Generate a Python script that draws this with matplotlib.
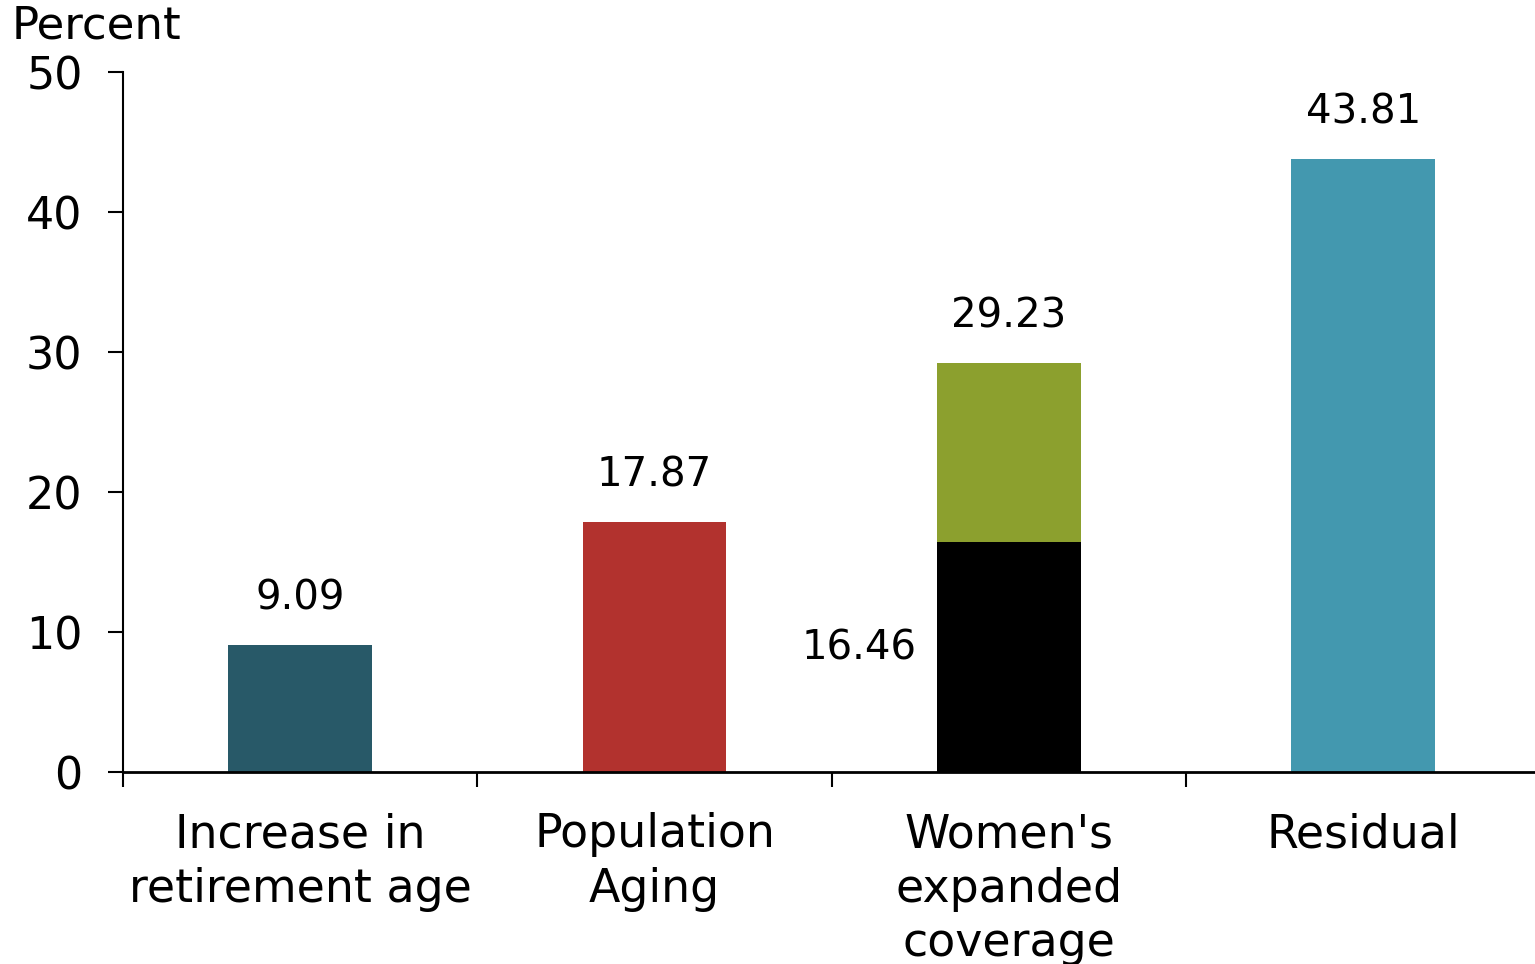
import matplotlib
matplotlib.use("Agg")
import matplotlib.pyplot as plt

categories = ["Increase in\nretirement age", "Population\nAging", "Women's\nexpanded\ncoverage", "Residual"]
base_values = [9.09, 17.87, 16.46, 43.81]
top_values = [0, 0, 12.77, 0]
totals = [9.09, 17.87, 29.23, 43.81]
base_colors = ["#285968", "#B2322E", "#000000", "#4398AF"]
top_color = "#8CA02E"
yticks = [0, 10, 20, 30, 40, 50]

plt.rcParams['font.family'] = ['DejaVu Sans']
fig = plt.figure(figsize=(15.35, 9.64), dpi=100)
ax = fig.add_axes([123/1535, 192/964, 1 - 123/1535, 700/964])

x = list(range(len(categories)))
ax.bar(x, base_values, width=0.405, color=base_colors)
ax.bar(x, top_values, bottom=base_values, width=0.405, color=top_color)

fs = 29
for i, t in enumerate(totals):
    ax.text(i, t + 1.9, f"{t:.2f}", ha="center", va="bottom", fontsize=fs)
ax.text(2 - 0.26, base_values[2] / 2 + 0.6, f"{base_values[2]:.2f}", ha="right", va="center", fontsize=fs)

ax.set_ylim(0, 50)
ax.set_xlim(-0.5, 3.485)
ax.set_yticks(yticks)
ax.set_yticklabels([str(v) for v in yticks], fontsize=32)
ax.set_xticks(x)
ax.set_xticklabels(categories, fontsize=33, linespacing=1.27)
ax.set_xticks([-0.5, 0.5, 1.5, 2.5], minor=True)
ax.tick_params(axis="x", which="major", length=0, pad=29)
ax.tick_params(axis="x", which="minor", length=11, width=1.5, direction="out")
ax.tick_params(axis="y", length=11, width=1.5, direction="out", pad=18)

for s in ["top", "right"]:
    ax.spines[s].set_visible(False)
ax.spines["left"].set_linewidth(1.5)
ax.spines["bottom"].set_linewidth(2)

fig.text(12/1535, 1 - 26/964, "Percent", fontsize=32.5, ha="left", va="center")

fig.savefig("out.png", dpi=100)
